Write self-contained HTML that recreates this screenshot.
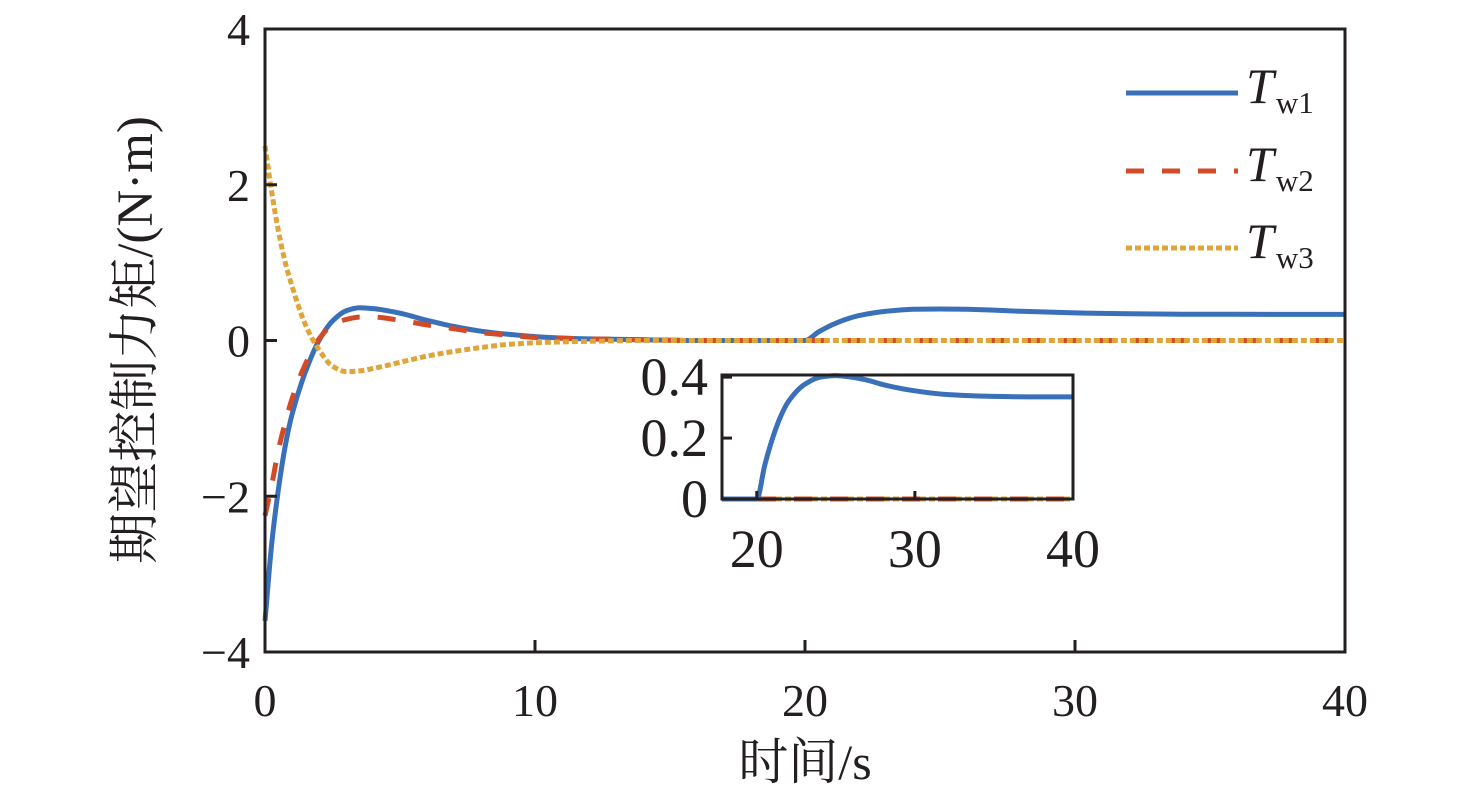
<!DOCTYPE html>
<html><head><meta charset="utf-8"><style>
html,body{margin:0;padding:0;background:#fff;}
svg{display:block;}
text{font-family:"Liberation Serif","Noto Serif CJK SC",serif;fill:#231f20;}
</style></head><body>
<svg id="chart" width="1476" height="798" viewBox="0 0 1476 798" xmlns="http://www.w3.org/2000/svg">
<g id="main"></g>
<g id="inset"></g>
<g id="legend"></g>
<text x="805" y="779" font-size="50" text-anchor="middle">时间/s</text>
<text transform="translate(152,340) rotate(-90)" font-size="51" text-anchor="middle">期望控制力矩/(N·m)</text>
</svg>
<script>
const times=[0,0.25,0.5,0.75,1,1.5,2,2.5,3,3.5,4,5,6,7,8,9,10,12,14,16,18,20,20.5,21,21.5,22,23,24,25,26,27,28,30,32,34,36,38,40];
const tw1=[-3.6,-2.6,-1.9,-1.35,-0.95,-0.4,0,0.25,0.38,0.42,0.41,0.35,0.26,0.18,0.12,0.08,0.05,0.02,0.01,0,0,0,0.11,0.2,0.27,0.32,0.375,0.4,0.405,0.4,0.39,0.375,0.355,0.343,0.338,0.336,0.335,0.335];
const tw2=[-2.25,-1.85,-1.4,-1.05,-0.75,-0.3,0.02,0.2,0.27,0.3,0.3,0.26,0.2,0.15,0.1,0.07,0.04,0.02,0.01,0,0,0,0,0,0,0,0,0,0,0,0,0,0,0,0,0,0,0];
const tw3=[2.5,1.9,1.4,1.0,0.7,0.2,-0.12,-0.33,-0.4,-0.39,-0.36,-0.28,-0.2,-0.14,-0.09,-0.05,-0.03,-0.01,0,0,0,0,0,0,0,0,0,0,0,0,0,0,0,0,0,0,0,0];
const xTicks=[0,10,20,30,40];
const yTicks=[-4,-2,0,2,4];
const yTickLabels=["\u22124","\u22122","0","2","4"];
const insetXTicks=[20,30,40];
const insetYTicks=[0,0.2,0.4];
const insetYTickLabels=["0","0.2","0.4"];
const legendLabels=["w1","w2","w3"];

const NS="http://www.w3.org/2000/svg";
function mk(tag,attrs,parent){const e=document.createElementNS(NS,tag);for(const k in attrs)e.setAttribute(k,attrs[k]);parent.appendChild(e);return e;}
// monotone cubic (Fritsch-Carlson) in pixel space
function smooth(p){
 const n=p.length,s=[],m=[];
 for(let i=0;i<n-1;i++)s.push((p[i+1][1]-p[i][1])/(p[i+1][0]-p[i][0]));
 m[0]=s[0];m[n-1]=s[n-2];
 for(let i=1;i<n-1;i++){
  if(s[i-1]*s[i]<=0)m[i]=0;
  else{const h0=p[i][0]-p[i-1][0],h1=p[i+1][0]-p[i][0];const w1=2*h1+h0,w2=h1+2*h0;m[i]=(w1+w2)/(w1/s[i-1]+w2/s[i]);}
 }
 let d='M'+p[0][0].toFixed(1)+','+p[0][1].toFixed(1);
 for(let i=0;i<n-1;i++){
  const h=(p[i+1][0]-p[i][0])/3;
  d+='C'+(p[i][0]+h).toFixed(1)+','+(p[i][1]+m[i]*h).toFixed(1)+' '+(p[i+1][0]-h).toFixed(1)+','+(p[i+1][1]-m[i+1]*h).toFixed(1)+' '+p[i+1][0].toFixed(1)+','+p[i+1][1].toFixed(1);
 }
 return d;
}
const styles=[
 {stroke:"#3a70b9",dash:"none",w:5},
 {stroke:"#d24a26",dash:"18 18",w:5},
 {stroke:"#e0a53a",dash:"6 3",w:5}];
const series=[tw1,tw2,tw3];

const M={x0:265,x1:1345,y0:652,y1:29,xmin:0,xmax:40,ymin:-4,ymax:4};
function mx(v){return M.x0+(v-M.xmin)/(M.xmax-M.xmin)*(M.x1-M.x0);}
function my(v){return M.y0-(v-M.ymin)/(M.ymax-M.ymin)*(M.y0-M.y1);}
const main=document.getElementById('main');
series.forEach((s,i)=>{
 const d=smooth(times.map((t,j)=>[mx(t),my(s[j])]));
 const p=mk('path',{d:d,fill:'none',stroke:styles[i].stroke,'stroke-width':styles[i].w,'stroke-dasharray':styles[i].dash},main);
 
 
});
const frame=mk('rect',{x:M.x0,y:M.y1,width:M.x1-M.x0,height:M.y0-M.y1,fill:'none',stroke:'#231f20','stroke-width':3},main);


xTicks.forEach(v=>{
 mk('line',{x1:mx(v),x2:mx(v),y1:M.y0,y2:M.y0-12,stroke:'#231f20','stroke-width':3},main);
 const t=mk('text',{x:mx(v),y:716,'font-size':46,'text-anchor':'middle'},main);t.textContent=v;
 
 
});
yTicks.forEach((v,i)=>{
 mk('line',{x1:M.x0,x2:M.x0+12,y1:my(v),y2:my(v),stroke:'#231f20','stroke-width':3},main);
 const t=mk('text',{x:250,y:my(v)+16,'font-size':46,'text-anchor':'end'},main);t.textContent=yTickLabels[i];
 
 
});

const I={x0:722,x1:1073,y0:499,y1:375,xmin:17.8,xmax:40,ymin:0,ymax:0.407};
function ix(v){return I.x0+(v-I.xmin)/(I.xmax-I.xmin)*(I.x1-I.x0);}
function iy(v){return I.y0-(v-I.ymin)/(I.ymax-I.ymin)*(I.y0-I.y1);}
const inset=document.getElementById('inset');
mk('rect',{x:I.x0,y:I.y1,width:I.x1-I.x0,height:I.y0-I.y1,fill:'#fff'},inset);
[2,1,0].forEach(i=>{
 const pts=[];times.forEach((t,j)=>{if(t>=I.xmin)pts.push([ix(t),iy(series[i][j])]);});
 pts.unshift([ix(I.xmin),iy(series[i][times.indexOf(18)])]);
 const p=mk('path',{d:smooth(pts),fill:'none',stroke:styles[i].stroke,'stroke-width':styles[i].w,'stroke-dasharray':styles[i].dash},inset);
 
 
});
const iframe=mk('rect',{x:I.x0,y:I.y1,width:I.x1-I.x0,height:I.y0-I.y1,fill:'none',stroke:'#231f20','stroke-width':3},inset);


insetXTicks.forEach(v=>{
 mk('line',{x1:ix(v),x2:ix(v),y1:I.y0,y2:I.y0-8,stroke:'#231f20','stroke-width':3},inset);
 const t=mk('text',{x:ix(v),y:567,'font-size':54,'text-anchor':'middle'},inset);t.textContent=v;
 
 
});
insetYTicks.forEach((v,i)=>{
 mk('line',{x1:I.x0,x2:I.x0+10,y1:iy(v),y2:iy(v),stroke:'#231f20','stroke-width':3},inset);
 const t=mk('text',{x:708,y:iy(v)+18,'font-size':54,'text-anchor':'end'},inset);t.textContent=insetYTickLabels[i];
 
 
});

const legend=document.getElementById('legend');
const ly=[93,171,248];
legendLabels.forEach((lab,i)=>{
 const l=mk('line',{x1:1126,x2:1238,y1:ly[i],y2:ly[i],stroke:styles[i].stroke,'stroke-width':styles[i].w,'stroke-dasharray':styles[i].dash},legend);
 
 
 const t=mk('text',{x:1246,y:ly[i]+10,'font-size':50,'font-style':'italic'},legend);
 
 
 t.textContent='T';
 const s=mk('tspan',{'font-size':31,'font-style':'normal',dx:2,dy:10},t);s.textContent=lab;
});
</script>
</body></html>
